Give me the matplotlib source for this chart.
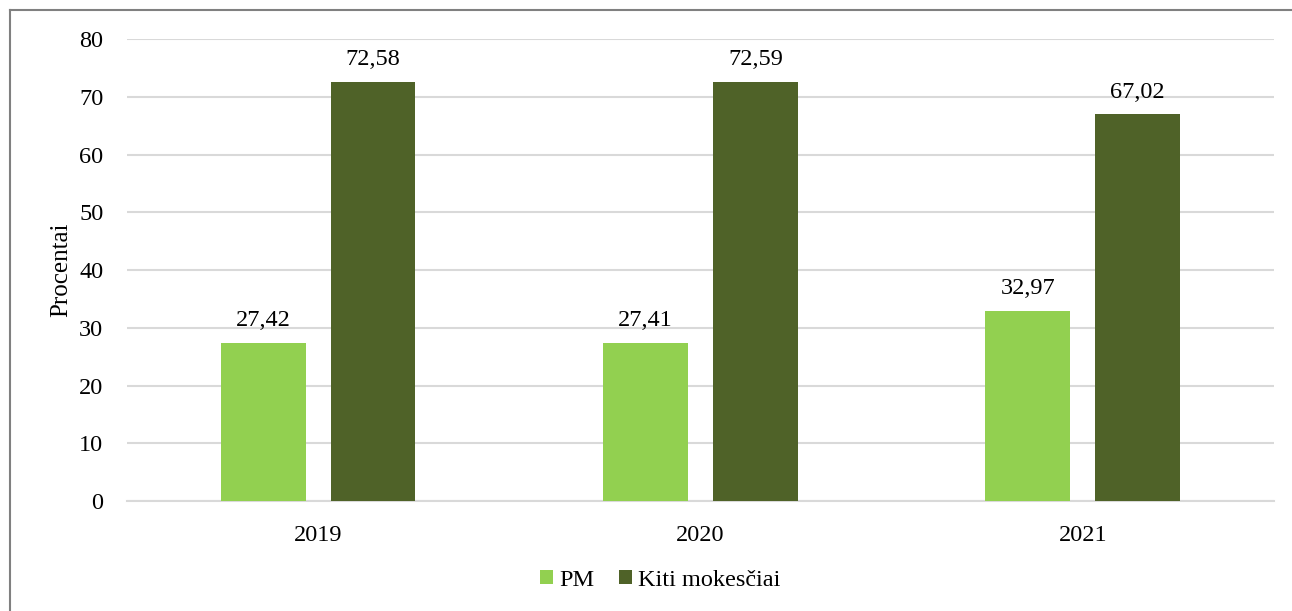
import numpy as np
import matplotlib.pyplot as plt
from matplotlib.lines import Line2D

plt.rcParams['font.family'] = ['Liberation Serif', 'DejaVu Serif']

years = ["2019", "2020", "2021"]
pm = [27.42, 27.41, 32.97]
kiti = [72.58, 72.59, 67.02]
pm_labels = ["27,42", "27,41", "32,97"]
kiti_labels = ["72,58", "72,59", "67,02"]

FS = 17.5

fig = plt.figure(figsize=(12.92, 6.11), dpi=100)
ax = fig.add_axes([0.0983, 0.180, 0.8877, 0.756])

x = np.arange(len(years))
w = 0.222
gap = 0.065
off = (w + gap) / 2
b1 = ax.bar(x - off, pm, w, color="#92D050", label="PM", zorder=3)
b2 = ax.bar(x + off, kiti, w, color="#4F6228", label="Kiti mokesčiai", zorder=3)

for rect, lab in zip(b1, pm_labels):
    ax.text(rect.get_x() + rect.get_width() / 2, rect.get_height() + 2.0, lab,
            ha="center", va="bottom", fontsize=FS)
for rect, lab in zip(b2, kiti_labels):
    ax.text(rect.get_x() + rect.get_width() / 2, rect.get_height() + 2.0, lab,
            ha="center", va="bottom", fontsize=FS)

ax.set_xlim(-0.5, 2.5)
ax.set_ylim(0, 80)
ax.set_yticks(range(0, 81, 10))
ax.set_xticks(x)
ax.set_xticklabels(years)
ax.tick_params(axis="both", labelsize=FS, length=0)
ax.tick_params(axis="y", pad=17)
ax.tick_params(axis="x", pad=17)
ax.grid(axis="y", color="#D9D9D9", linewidth=1.5, zorder=0)
for s in ["top", "right", "left"]:
    ax.spines[s].set_visible(False)
ax.spines["bottom"].set_color("#D9D9D9")
ax.spines["bottom"].set_linewidth(1.5)
ax.set_ylabel("Procentai", fontsize=18, labelpad=5)

fig.legend(handles=[b1, b2], loc="center", bbox_to_anchor=(660 / 1292, 1 - 580 / 611),
           ncol=2, frameon=False, fontsize=FS, handlelength=0.55, handleheight=0.55,
           handletextpad=0.25, columnspacing=1.0)

# outer frame (left and top edges visible)
fig.add_artist(Line2D([9.5 / 1292, 9.5 / 1292], [0, 1 - 10 / 611], color="#808080", lw=1.5))
fig.add_artist(Line2D([9.5 / 1292, 1], [1 - 10 / 611, 1 - 10 / 611], color="#808080", lw=1.5))

fig.savefig("out.png", dpi=100)
